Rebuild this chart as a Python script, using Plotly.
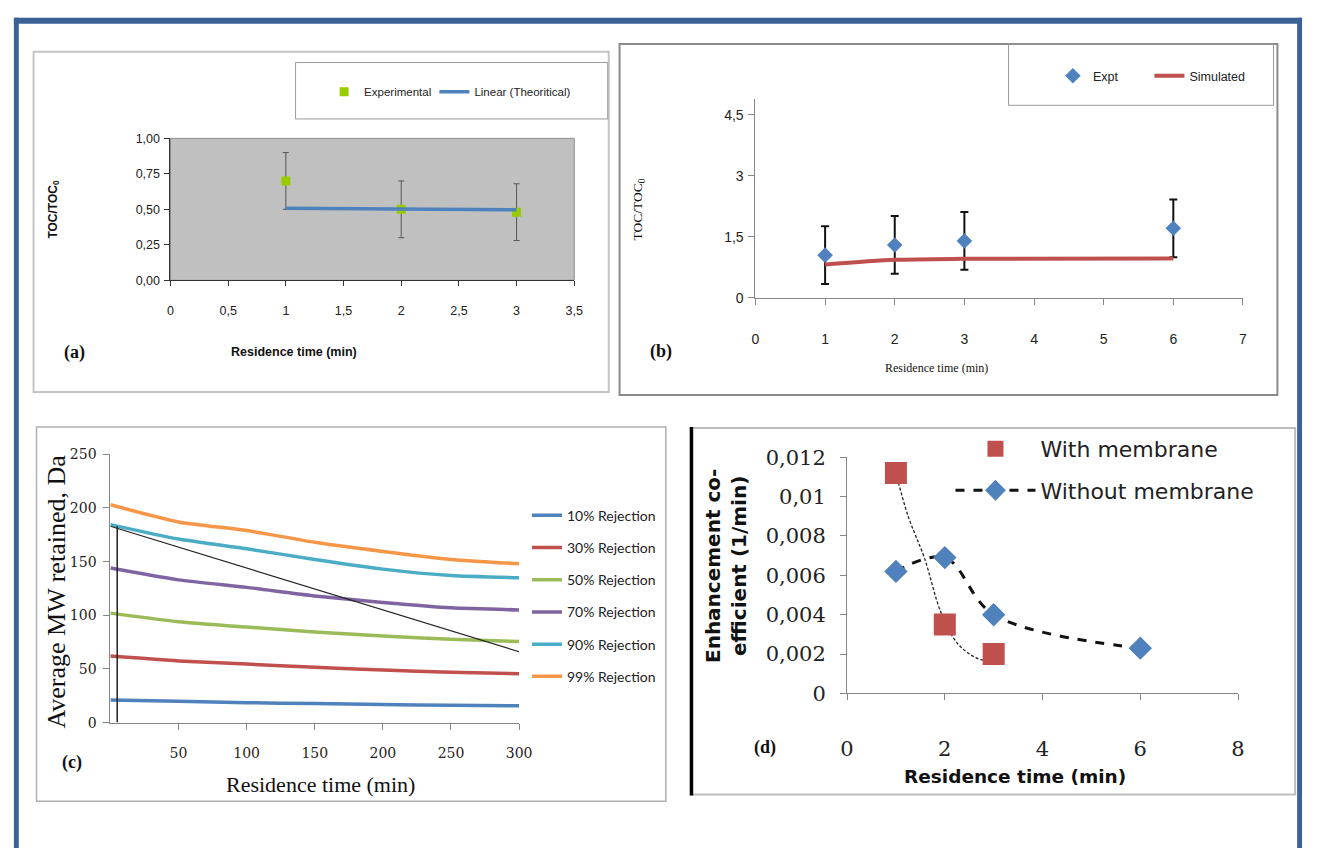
import plotly.graph_objects as go

W, H = 1318, 860


def PX(v):
    return v / W


def PY(v):
    return 1 - v / H


# ---------------- data ----------------
# Panel (a)
a_time = [1, 2, 3]
a_toc = [0.70, 0.50, 0.48]
a_err = [0.20, 0.20, 0.20]
a_lin_time = [1, 3]
a_lin_toc = [0.507, 0.497]

# Panel (b)
b_time = [1, 2, 3, 6]
b_toc = [1.05, 1.30, 1.40, 1.71]
b_err = [0.71, 0.71, 0.71, 0.71]
b_sim_time = [1, 2, 3, 6]
b_sim_toc = [0.82, 0.935, 0.96, 0.97]

# Panel (c)
c_time = [0, 50, 100, 150, 200, 250, 300]
c_names = ["10% Rejection", "30% Rejection", "50% Rejection",
           "70% Rejection", "90% Rejection", "99% Rejection"]
c_r10 = [21, 19.8, 18.6, 17.7, 16.8, 16.1, 15.6]
c_r30 = [62, 57.5, 54.5, 51.5, 49, 46.8, 45.6]
c_r50 = [102, 94, 89, 84.5, 80.6, 77.6, 75.5]
c_r70 = [144, 133, 126, 118, 112, 107, 105]
c_r90 = [184.5, 171, 162, 152, 143, 137, 135]
c_r99 = [203, 187, 179, 168, 159.5, 152, 148]
c_diag_time = [0, 300]
c_diag_mw = [183, 66]
c_vert_time = [5, 5]
c_vert_mw = [0, 183]

# Panel (d)
d_time_with = [1, 2, 3]
d_coef_with = [0.0112, 0.0035, 0.0020]
d_trend_time = [1.0, 1.25, 1.58, 1.94, 2.31, 2.79, 3.0]
d_trend_coef = [0.0112, 0.0090, 0.0069, 0.0040, 0.0024, 0.0017, 0.0020]
d_time_without = [1, 2, 3, 6]
d_coef_without = [0.0062, 0.0069, 0.0040, 0.0023]

# ---------------- style ----------------
NARROW = "Liberation Sans, Arial, sans-serif"
SANS = "Liberation Sans, Arial, sans-serif"
SERIF = "Liberation Serif, Times New Roman, serif"
DSERIF = "DejaVu Serif, serif"
DSANS = "DejaVu Sans, Verdana, sans-serif"
CAL = "Lato, Liberation Sans, sans-serif"

BLUE = "#4F81BD"
RED = "#C0504D"
GREEN = "#9BBB59"
PURPLE = "#8064A2"
AQUA = "#4BACC6"
ORANGE = "#F79646"

fig = go.Figure()

# ----- (a) -----
fig.add_trace(go.Scatter(
    x=a_time, y=a_toc, mode="markers", name="Experimental",
    marker=dict(symbol="square", size=9, color="#99CC00"),
    error_y=dict(type="data", array=a_err, color="#555555", thickness=1, width=3),
    xaxis="x", yaxis="y", legend="legend"))
fig.add_trace(go.Scatter(
    x=a_lin_time, y=a_lin_toc, mode="lines", name="Linear (Theoritical)",
    line=dict(color=BLUE, width=3.5),
    xaxis="x", yaxis="y", legend="legend2"))

# ----- (b) -----
fig.add_trace(go.Scatter(
    x=b_time, y=b_toc, mode="markers", name="Expt",
    marker=dict(symbol="diamond", size=12, color=BLUE),
    error_y=dict(type="data", array=b_err, color="#111111", thickness=2, width=4),
    xaxis="x2", yaxis="y2", legend="legend3"))
fig.add_trace(go.Scatter(
    x=b_sim_time, y=b_sim_toc, mode="lines", name="Simulated",
    line=dict(color=RED, width=4, shape="spline", smoothing=0.8),
    xaxis="x2", yaxis="y2", legend="legend4"))

# ----- (c) -----
c_series = [c_r10, c_r30, c_r50, c_r70, c_r90, c_r99]
c_colors = [BLUE, RED, GREEN, PURPLE, AQUA, ORANGE]
for i, (nm, ys, col) in enumerate(zip(c_names, c_series, c_colors)):
    fig.add_trace(go.Scatter(
        x=c_time, y=ys, mode="lines", name=nm,
        line=dict(color=col, width=3.5, shape="spline", smoothing=0.6),
        xaxis="x3", yaxis="y3", legend="legend5", legendgroup="c%d" % i))
fig.add_trace(go.Scatter(
    x=c_diag_time, y=c_diag_mw, mode="lines", showlegend=False,
    line=dict(color="#222222", width=1.2), xaxis="x3", yaxis="y3"))
fig.add_trace(go.Scatter(
    x=c_vert_time, y=c_vert_mw, mode="lines", showlegend=False,
    line=dict(color="#222222", width=1.5), xaxis="x3", yaxis="y3"))

# ----- (d) -----
fig.add_trace(go.Scatter(
    x=d_trend_time, y=d_trend_coef, mode="lines", showlegend=False,
    line=dict(color="#222222", width=1.3, dash="3px,2px", shape="spline"),
    xaxis="x4", yaxis="y4"))
fig.add_trace(go.Scatter(
    x=d_time_with, y=d_coef_with, mode="markers", name="With membrane",
    marker=dict(symbol="square", size=22, color=RED),
    xaxis="x4", yaxis="y4", legend="legend6", legendgroup="d0"))
fig.add_trace(go.Scatter(
    x=d_time_without, y=d_coef_without, mode="lines+markers", name="Without membrane",
    line=dict(color="#111111", width=3, dash="dash", shape="spline", smoothing=1),
    marker=dict(symbol="diamond", size=18, color=BLUE),
    xaxis="x4", yaxis="y4", legend="legend6", legendgroup="d1"))

# ---------------- axes ----------------
def ax(**kw):
    base = dict(showgrid=False, zeroline=False, showline=True, ticks="outside",
                fixedrange=True)
    base.update(kw)
    return base


layout_axes = dict(
    xaxis=ax(domain=[PX(166), PX(576)], range=[0, 3.5], dtick=0.5, tick0=0, anchor="y",
             linecolor="#333333", tickcolor="#333333", ticklen=5,
             tickfont=dict(family=NARROW, size=12.5, color="#222222"), ticklabelstandoff=14),
    yaxis=ax(domain=[PY(276), PY(130)], range=[0, 1], tickvals=[0, 0.25, 0.5, 0.75, 1.0],
             tickformat=".2f", anchor="x", linecolor="#333333", tickcolor="#333333", ticklen=5,
             tickfont=dict(family=NARROW, size=12.5, color="#222222"), ticklabelstandoff=2),
    xaxis2=ax(domain=[PX(760), PX(1255)], range=[0, 7], dtick=1, tick0=0, anchor="y2",
              linecolor="#868686", tickcolor="#868686", ticklen=6,
              tickfont=dict(family=NARROW, size=14, color="#222222"), ticklabelstandoff=22),
    yaxis2=ax(domain=[PY(294), PY(90)], range=[0, 4.88], tickvals=[0, 1.5, 3, 4.5],
              anchor="x2", linecolor="#868686", tickcolor="#868686", ticklen=6,
              tickfont=dict(family=NARROW, size=14, color="#222222"), ticklabelstandoff=2),
    xaxis3=ax(domain=[PX(105), PX(520)], range=[0, 300], tickvals=[50, 100, 150, 200, 250, 300],
              anchor="y3",
              linecolor="#868686", tickcolor="#868686", ticklen=6,
              tickfont=dict(family=DSERIF, size=14, color="#222222"), ticklabelstandoff=12),
    yaxis3=ax(domain=[PY(731), PY(455)], range=[0, 250], dtick=50, tick0=0, anchor="x3",
              linecolor="#868686", tickcolor="#868686", ticklen=6,
              tickfont=dict(family=DSERIF, size=14, color="#222222"), ticklabelstandoff=4),
    xaxis4=ax(domain=[PX(853), PX(1250)], range=[0, 8], dtick=2, tick0=0, anchor="y4",
              linecolor="#868686", tickcolor="#868686", ticklen=6,
              tickfont=dict(family=DSERIF, size=21, color="#222222"), ticklabelstandoff=30),
    yaxis4=ax(domain=[PY(701), PY(458)], range=[0, 0.012], dtick=0.002, tick0=0, anchor="x4",
              linecolor="#868686", tickcolor="#868686", ticklen=6,
              tickfont=dict(family=DSERIF, size=21, color="#222222"), ticklabelstandoff=10),
)

# ---------------- legends ----------------
def leg(x, y, size, family, **kw):
    base = dict(x=PX(x), y=PY(y), xanchor="left", yanchor="middle", orientation="v",
                bgcolor="rgba(0,0,0,0)", borderwidth=0,
                font=dict(family=family, size=size, color="#222222"))
    base.update(kw)
    return base


legends = dict(
    legend=leg(322, 82, 11.5, NARROW),
    legend2=leg(434, 82, 11.5, NARROW),
    legend3=leg(1062, 66, 12.5, NARROW),
    legend4=leg(1160, 66, 12.5, NARROW),
    legend5=leg(528, 601, 14, CAL, tracegroupgap=11),
    legend6=leg(958, 471, 22, DSANS, tracegroupgap=10, itemwidth=80),
)

# ---------------- shapes ----------------
FRAME = "#3A6296"
shapes = [
    # outer blue frame
    dict(type="rect", xref="paper", yref="paper", x0=PX(7), x1=PX(1315), y0=PY(12), y1=PY(6),
         fillcolor=FRAME, line=dict(width=0), layer="below"),
    dict(type="rect", xref="paper", yref="paper", x0=PX(7), x1=PX(12), y0=PY(860), y1=PY(6),
         fillcolor=FRAME, line=dict(width=0), layer="below"),
    dict(type="rect", xref="paper", yref="paper", x0=PX(1310), x1=PX(1315), y0=PY(860), y1=PY(6),
         fillcolor=FRAME, line=dict(width=0), layer="below"),
    # panel boxes
    dict(type="rect", xref="paper", yref="paper", x0=PX(27), x1=PX(611), y0=PY(391), y1=PY(41),
         line=dict(color="#C4C4C4", width=2), layer="below"),
    dict(type="rect", xref="paper", yref="paper", x0=PX(622), x1=PX(1290), y0=PY(394), y1=PY(33),
         line=dict(color="#8A8A8A", width=2), layer="below"),
    dict(type="rect", xref="paper", yref="paper", x0=PX(30), x1=PX(669), y0=PY(812), y1=PY(427),
         line=dict(color="#B0B0B0", width=1.5), layer="below"),
    dict(type="rect", xref="paper", yref="paper", x0=PX(695), x1=PX(1308), y0=PY(805), y1=PY(428),
         line=dict(color="#BDBDBD", width=2), layer="below"),
    dict(type="line", xref="paper", yref="paper", x0=PX(695), x1=PX(695), y0=PY(806), y1=PY(427),
         line=dict(color="#000000", width=3.5), layer="below"),
    # legend boxes
    dict(type="rect", xref="paper", yref="paper", x0=PX(293), x1=PX(610), y0=PY(110), y1=PY(52),
         line=dict(color="#9A9A9A", width=1), layer="below"),
    dict(type="rect", xref="paper", yref="paper", x0=PX(1017), x1=PX(1286), y0=PY(96), y1=PY(33),
         line=dict(color="#9A9A9A", width=1), layer="below"),
    # (a) grey plot area
    dict(type="rect", xref="x domain", yref="y domain", x0=0, x1=1, y0=0, y1=1,
         fillcolor="#C0C0C0", line=dict(color="#8C8C8C", width=1), layer="below"),
]

# ---------------- annotations ----------------
def txt(text, x, y, size, family, angle=0, color="#111111", **kw):
    d = dict(text=text, x=PX(x), y=PY(y), xref="paper", yref="paper", showarrow=False,
             xanchor="center", yanchor="middle", textangle=angle,
             font=dict(family=family, size=size, color=color))
    d.update(kw)
    return d


annotations = [
    # (a)
    txt("<b>Residence time (min)</b>", 291, 350, 12.5, NARROW),
    txt("<b>TOC/TOC<sub>0</sub></b>", 48, 203, 12, SANS, angle=-90),
    txt("<b>(a)</b>", 69, 350, 18, SERIF),
    # (b)
    txt("Residence time (min)", 944, 366, 12, SERIF),
    txt("TOC/TOC<sub>0</sub>", 641, 203, 13.5, SERIF, angle=-90),
    txt("<b>(b)</b>", 664, 349, 18, SERIF),
    # (c)
    txt("Residence time (min)", 318, 795, 22, SERIF),
    txt("Average MW retained, Da", 50, 596, 26, SERIF, angle=-90),
    txt("<b>(c)</b>", 66, 772, 18, SERIF),
    # (d)
    txt("<b>Residence time (min)</b>", 1024, 786, 18.5, DSANS),
    txt("<b>Enhancement co-<br>efficient (1/min)</b>", 730, 570, 20, DSANS, angle=-90),
    txt("<b>(d)</b>", 770, 757, 18, SERIF),
]

fig.update_layout(
    width=W, height=H, autosize=False,
    margin=dict(l=0, r=0, t=0, b=0),
    paper_bgcolor="white", plot_bgcolor="rgba(0,0,0,0)",
    separators=", ",
    shapes=shapes, annotations=annotations,
    **layout_axes, **legends,
)

POST = (
    "document.documentElement.style.margin='0';"
    "document.documentElement.style.padding='0';"
    "document.body.style.margin='0';document.body.style.padding='0';"
    "document.body.style.overflow='hidden';"
)

fig.write_html("out.html", config={"displayModeBar": False, "staticPlot": True},
               post_script=POST)
